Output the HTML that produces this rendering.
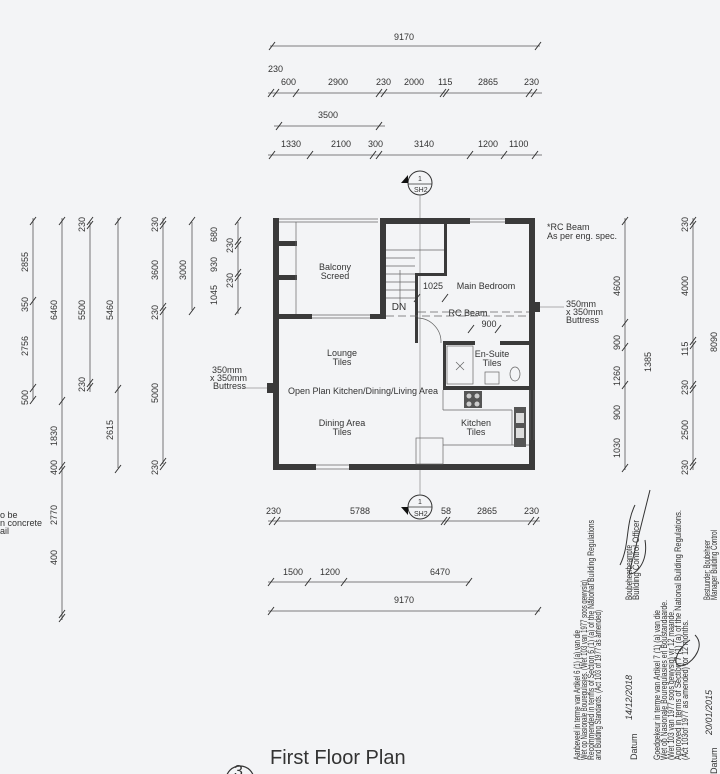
<!DOCTYPE html>
<html><head><meta charset="utf-8"><style>
html,body{margin:0;padding:0;background:#f3f4f6;}
svg{display:block;font-family:"Liberation Sans",sans-serif;}
.d{stroke:#555;stroke-width:0.8;fill:none}
.t{stroke:#333;stroke-width:1}
.w{fill:#3a3a3a}
text{fill:#333;font-size:9px}
.s{font-size:7px}
</style></head><body>
<svg width="720" height="774" viewBox="0 0 720 774">
<rect width="720" height="774" fill="#f3f4f6"/>
<g class="d">
<line x1="270" y1="46" x2="540" y2="46"/>
<line x1="268" y1="93" x2="542" y2="93"/>
<line x1="274" y1="126" x2="385" y2="126"/>
<line x1="268" y1="155" x2="542" y2="155"/>
</g>
<g class="t">
<path d="M269 50l6-8M535 50l6-8"/>
<path d="M268 97l6-8M273 97l6-8M293 97l6-8M376 97l6-8M381 97l6-8M440 97l6-8M443 97l6-8M526 97l6-8M531 97l6-8"/>
<path d="M276 130l6-8M376 130l6-8"/>
<path d="M269 159l6-8M307 159l6-8M370 159l6-8M376 159l6-8M467 159l6-8M501 159l6-8M532 159l6-8"/>
</g>
<text x="394" y="40">9170</text>
<text x="268" y="72">230</text>
<text x="281" y="85">600</text>
<text x="328" y="85">2900</text>
<text x="376" y="85">230</text>
<text x="404" y="85">2000</text>
<text x="438" y="85">115</text>
<text x="478" y="85">2865</text>
<text x="524" y="85">230</text>
<text x="318" y="118">3500</text>
<text x="281" y="147">1330</text>
<text x="331" y="147">2100</text>
<text x="368" y="147">300</text>
<text x="414" y="147">3140</text>
<text x="478" y="147">1200</text>
<text x="509" y="147">1100</text>
<g>
<circle cx="420" cy="183" r="12" fill="#f3f4f6" stroke="#333" stroke-width="1"/>
<line x1="408" y1="184" x2="432" y2="184" stroke="#333" stroke-width="0.8"/>
<path d="M408 183l-7 0 7-8z" fill="#111"/>
<text x="418" y="181" class="s">1</text><text x="414" y="192" class="s">SH2</text>
<circle cx="420" cy="507" r="12" fill="#f3f4f6" stroke="#333" stroke-width="1"/>
<line x1="408" y1="507" x2="432" y2="507" stroke="#333" stroke-width="0.8"/>
<path d="M408 507l-7 0 7 8z" fill="#111"/>
<text x="418" y="504" class="s">1</text><text x="414" y="516" class="s">SH2</text>
</g>
<line x1="420" y1="195" x2="420" y2="495" stroke="#777" stroke-width="0.6"/>
<g class="w">
<rect x="273" y="218" width="6" height="252"/>
<rect x="273" y="464" width="43" height="6"/>
<rect x="349" y="464" width="186" height="6"/>
<rect x="529" y="218" width="6" height="252"/>
<rect x="380" y="218" width="90" height="6"/>
<rect x="505" y="218" width="30" height="6"/>
<rect x="380" y="218" width="6" height="101"/>
<rect x="273" y="314" width="39" height="5"/>
<rect x="370" y="314" width="16" height="5"/>
<rect x="279" y="241" width="18" height="5"/>
<rect x="279" y="275" width="18" height="5"/>
<rect x="444" y="218" width="3" height="58"/>
<rect x="415" y="273" width="32" height="3"/>
<rect x="415" y="273" width="3" height="70"/>
<rect x="443" y="341" width="32" height="4"/>
<rect x="500" y="341" width="35" height="4"/>
<rect x="443" y="341" width="3" height="49"/>
<rect x="443" y="386" width="92" height="4"/>
<rect x="535" y="302" width="5" height="10"/>
<rect x="267" y="383" width="6" height="10"/>
</g>
<g stroke="#666" stroke-width="0.7" fill="none">
<line x1="279" y1="219" x2="378" y2="219"/><line x1="279" y1="222" x2="378" y2="222"/>
<line x1="312" y1="315" x2="370" y2="315"/><line x1="312" y1="318" x2="370" y2="318"/>
<line x1="470" y1="219" x2="505" y2="219"/><line x1="470" y1="222" x2="505" y2="222"/>
<line x1="316" y1="465" x2="349" y2="465"/><line x1="316" y1="469" x2="349" y2="469"/>
<line x1="296" y1="222" x2="296" y2="314"/>
<line x1="530" y1="390" x2="530" y2="440"/><line x1="534" y1="390" x2="534" y2="440"/>
<line x1="386" y1="250" x2="444" y2="250"/>
<line x1="386" y1="258" x2="415" y2="258"/><line x1="386" y1="266" x2="415" y2="266"/>
<line x1="386" y1="274" x2="415" y2="274"/><line x1="386" y1="282" x2="415" y2="282"/>
<line x1="386" y1="290" x2="415" y2="290"/><line x1="386" y1="298" x2="415" y2="298"/>
<line x1="400" y1="270" x2="400" y2="310"/>
<path d="M418 318 A24 24 0 0 1 441 343"/>
<line x1="418" y1="312" x2="529" y2="312" stroke-dasharray="8 4"/>
<line x1="386" y1="316" x2="529" y2="316" stroke-dasharray="8 4"/>
<rect x="447" y="346" width="26" height="38"/>
<line x1="456" y1="362" x2="464" y2="370"/><line x1="464" y1="362" x2="456" y2="370"/>
<rect x="485" y="372" width="14" height="12"/>
<ellipse cx="515" cy="374" rx="5" ry="7"/>
<line x1="443" y1="390" x2="443" y2="410"/>
<line x1="443" y1="410" x2="512" y2="410"/>
<line x1="512" y1="410" x2="512" y2="445"/>
<line x1="443" y1="445" x2="529" y2="445"/>
<rect x="416" y="438" width="27" height="26"/>
</g>
<rect x="464" y="391" width="18" height="17" fill="#555"/>
<g fill="#ccc"><circle cx="469" cy="396" r="2.5"/><circle cx="477" cy="396" r="2.5"/><circle cx="469" cy="404" r="2.5"/><circle cx="477" cy="404" r="2.5"/></g>
<rect x="514" y="407" width="12" height="40" fill="#555"/>
<rect x="516" y="413" width="8" height="10" fill="#ddd"/><rect x="516" y="428" width="8" height="10" fill="#ddd"/>
<g class="t"><path d="M414 302l6-8M442 302l6-8M468 333l6-8M495 333l6-8"/></g>
<g class="s" text-anchor="middle">
<text x="335" y="270">Balcony</text><text x="335" y="279">Screed</text>
<text x="433" y="289" style="font-size:9px">1025</text>
<text x="486" y="289">Main Bedroom</text>
<text x="399" y="310" style="font-size:10px">DN</text>
<text x="468" y="316">RC Beam</text>
<text x="489" y="327" style="font-size:9px">900</text>
<text x="342" y="356">Lounge</text><text x="342" y="365">Tiles</text>
<text x="492" y="357">En-Suite</text><text x="492" y="366">Tiles</text>
<text x="363" y="394">Open Plan Kitchen/Dining/Living Area</text>
<text x="342" y="426">Dining Area</text><text x="342" y="435">Tiles</text>
<text x="476" y="426">Kitchen</text><text x="476" y="435">Tiles</text>
</g>
<g class="s">
<text x="547" y="230">*RC Beam</text><text x="547" y="239">As per eng. spec.</text>
<text x="566" y="307">350mm</text><text x="566" y="315">x 350mm</text><text x="566" y="323">Buttress</text>
<text x="212" y="373">350mm</text><text x="210" y="381">x 350mm</text><text x="213" y="389">Buttress</text>
<text x="0" y="518">o be</text><text x="0" y="526">n concrete</text><text x="0" y="534">ail</text>
</g>
<line x1="540" y1="307" x2="564" y2="307" stroke="#666" stroke-width="0.6"/>
<line x1="243" y1="388" x2="267" y2="388" stroke="#666" stroke-width="0.6"/>
<g class="d">
<line x1="268" y1="521" x2="540" y2="521"/>
<line x1="268" y1="582" x2="470" y2="582"/>
<line x1="268" y1="611" x2="540" y2="611"/>
</g>
<g class="t">
<path d="M269 525l6-8M274 525l6-8M441 525l6-8M444 525l6-8M528 525l6-8M533 525l6-8"/>
<path d="M268 586l6-8M305 586l6-8M341 586l6-8M466 586l6-8"/>
<path d="M268 615l6-8M535 615l6-8"/>
</g>
<text x="266" y="514">230</text><text x="350" y="514">5788</text><text x="441" y="514">58</text>
<text x="477" y="514">2865</text><text x="524" y="514">230</text>
<text x="283" y="575">1500</text><text x="320" y="575">1200</text><text x="430" y="575">6470</text>
<text x="394" y="603">9170</text>
<g class="d">
<line x1="33" y1="218" x2="33" y2="400"/>
<line x1="62" y1="218" x2="62" y2="620"/>
<line x1="90" y1="222" x2="90" y2="392"/>
<line x1="118" y1="218" x2="118" y2="468"/>
<line x1="163" y1="218" x2="163" y2="464"/>
<line x1="192" y1="222" x2="192" y2="310"/>
<line x1="238" y1="222" x2="238" y2="314"/>
<line x1="625" y1="218" x2="625" y2="470"/>
<line x1="693" y1="218" x2="693" y2="470"/>
</g>
<g class="t">
<path d="M30 225l6-8M30 305l6-8M30 392l6-8M30 404l6-8"/>
<path d="M59 225l6-8M59 405l6-8M59 470l6-8M59 474l6-8M59 618l6-8M59 622l6-8"/>
<path d="M87 225l6-8M87 229l6-8M87 387l6-8M87 391l6-8"/>
<path d="M115 225l6-8M115 393l6-8M115 473l6-8"/>
<path d="M160 225l6-8M160 229l6-8M160 311l6-8M160 315l6-8M160 466l6-8M160 470l6-8"/>
<path d="M189 225l6-8M189 315l6-8"/>
<path d="M235 225l6-8M235 245l6-8M235 249l6-8M235 277l6-8M235 281l6-8M235 315l6-8"/>
<path d="M622 225l6-8M622 327l6-8M622 351l6-8M622 389l6-8M622 472l6-8"/>
<path d="M690 225l6-8M690 229l6-8M690 345l6-8M690 349l6-8M690 389l6-8M690 393l6-8M690 466l6-8M690 470l6-8"/>
</g>
<g font-size="9">
<text transform="translate(28,272) rotate(-90)">2855</text>
<text transform="translate(28,312) rotate(-90)">350</text>
<text transform="translate(28,356) rotate(-90)">2756</text>
<text transform="translate(28,405) rotate(-90)">500</text>
<text transform="translate(57,320) rotate(-90)">6460</text>
<text transform="translate(57,446) rotate(-90)">1830</text>
<text transform="translate(57,475) rotate(-90)">400</text>
<text transform="translate(57,525) rotate(-90)">2770</text>
<text transform="translate(57,565) rotate(-90)">400</text>
<text transform="translate(85,232) rotate(-90)">230</text>
<text transform="translate(85,320) rotate(-90)">5500</text>
<text transform="translate(85,392) rotate(-90)">230</text>
<text transform="translate(113,320) rotate(-90)">5460</text>
<text transform="translate(113,440) rotate(-90)">2615</text>
<text transform="translate(158,232) rotate(-90)">230</text>
<text transform="translate(158,280) rotate(-90)">3600</text>
<text transform="translate(158,320) rotate(-90)">230</text>
<text transform="translate(158,403) rotate(-90)">5000</text>
<text transform="translate(158,475) rotate(-90)">230</text>
<text transform="translate(186,280) rotate(-90)">3000</text>
<text transform="translate(217,242) rotate(-90)">680</text>
<text transform="translate(217,272) rotate(-90)">930</text>
<text transform="translate(217,305) rotate(-90)">1045</text>
<text transform="translate(233,253) rotate(-90)">230</text>
<text transform="translate(233,288) rotate(-90)">230</text>
<text transform="translate(620,296) rotate(-90)">4600</text>
<text transform="translate(620,350) rotate(-90)">900</text>
<text transform="translate(620,386) rotate(-90)">1260</text>
<text transform="translate(620,420) rotate(-90)">900</text>
<text transform="translate(620,458) rotate(-90)">1030</text>
<text transform="translate(651,372) rotate(-90)">1385</text>
<text transform="translate(688,232) rotate(-90)">230</text>
<text transform="translate(688,296) rotate(-90)">4000</text>
<text transform="translate(688,356) rotate(-90)">115</text>
<text transform="translate(688,395) rotate(-90)">230</text>
<text transform="translate(688,440) rotate(-90)">2500</text>
<text transform="translate(688,475) rotate(-90)">230</text>
<text transform="translate(717,352) rotate(-90)">8090</text>
</g>
<g font-size="5.5">
<text transform="translate(580,760) rotate(-90)" textLength="130" lengthAdjust="spacingAndGlyphs">Aanbeveel in terme van Artikel 6 (1) (a) van die</text>
<text transform="translate(587,760) rotate(-90)" textLength="180" lengthAdjust="spacingAndGlyphs">Wet op Nasionale Bouregulasies. (Wet 103 van 1977 soos gewysig)</text>
<text transform="translate(594,760) rotate(-90)" textLength="240" lengthAdjust="spacingAndGlyphs">Recommended in terms of Section 6 (1) (a) of the National Building Regulations</text>
<text transform="translate(601,760) rotate(-90)" textLength="150" lengthAdjust="spacingAndGlyphs">and Building Standards. (Act 103 of 1977 as amended)</text>
<text transform="translate(637,760) rotate(-90)">Datum</text>
<text transform="translate(632,600) rotate(-90)" textLength="55" lengthAdjust="spacingAndGlyphs">Boubeheerbeampte</text>
<text transform="translate(639,600) rotate(-90)" textLength="80" lengthAdjust="spacingAndGlyphs">Building Control Officer</text>
<text transform="translate(660,760) rotate(-90)" textLength="150" lengthAdjust="spacingAndGlyphs">Goedgekeur in terme van Artikel 7 (1) (a) van die</text>
<text transform="translate(667,760) rotate(-90)" textLength="160" lengthAdjust="spacingAndGlyphs">Wet op Nasionale Bouregulasies en Boustandaarde.</text>
<text transform="translate(674,760) rotate(-90)" textLength="150" lengthAdjust="spacingAndGlyphs">(Wet 103 van 1977 soos gewysig) vir 12 maande.</text>
<text transform="translate(681,760) rotate(-90)" textLength="250" lengthAdjust="spacingAndGlyphs">Approved in terms of Section 7 (1) (a) of the National Building Regulations.</text>
<text transform="translate(688,760) rotate(-90)" textLength="140" lengthAdjust="spacingAndGlyphs">(Act 103of 1977 as amended) for 12 months.</text>
<text transform="translate(710,600) rotate(-90)" textLength="60" lengthAdjust="spacingAndGlyphs">Bestuurder: Boubeheer</text>
<text transform="translate(717,600) rotate(-90)" textLength="70" lengthAdjust="spacingAndGlyphs">Manager Building Control</text>
<text transform="translate(717,774) rotate(-90)">Datum</text>
</g>
<path d="M620 565c10-20 5-40 15-60M650 490l-20 80c-5 10 20 0 15-30" stroke="#333" stroke-width="1" fill="none"/>
<path d="M690 640c-15 10-20 30-5 25 10-5 20-20 10-30" stroke="#333" stroke-width="1" fill="none"/>
<text transform="translate(632,720) rotate(-90)" font-size="10" font-style="italic">14/12/2018</text>
<text transform="translate(712,735) rotate(-90)" font-size="10" font-style="italic">20/01/2015</text>
<text x="270" y="764" style="font-size:20px">First Floor Plan</text>
<circle cx="240" cy="780" r="14" fill="none" stroke="#333" stroke-width="1.2"/>
<text x="234" y="776" style="font-size:16px">3</text>
</svg>
</body></html>
